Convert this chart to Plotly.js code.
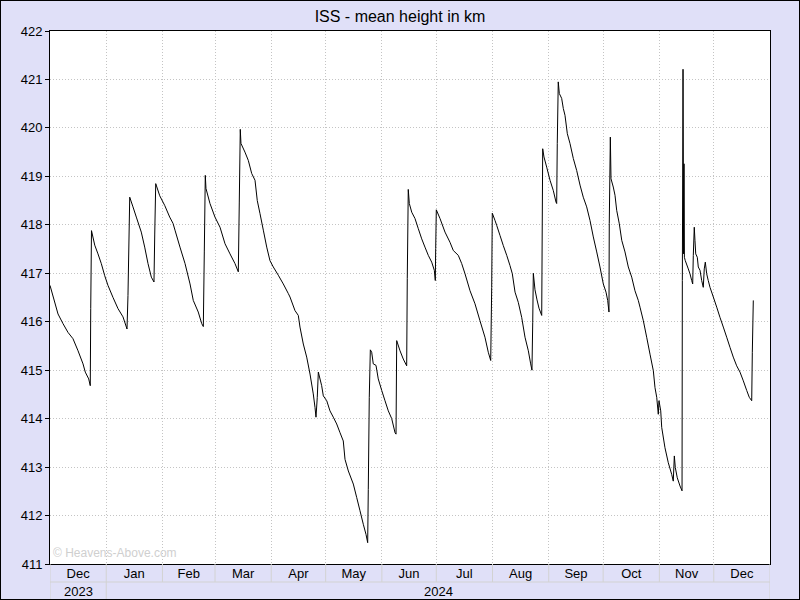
<!DOCTYPE html>
<html>
<head>
<meta charset="utf-8">
<script src="https://cdn.plot.ly/plotly-3.0.1.min.js"></script>
<style>
  html, body { margin: 0; padding: 0; background: #e0e0f8; }
  #wrap { position: relative; width: 800px; height: 600px; }
  #chart { width: 800px; height: 600px; }
  #frame { position: absolute; left: 0; top: 0; width: 800px; height: 600px; box-sizing: border-box; border: 1px solid #000; pointer-events: none; }
</style>
</head>
<body>
<div id="wrap"><div id="chart"></div><div id="frame"></div></div>
<script>
// ---- data ----
const chartTitle = "ISS - mean height in km";
const watermark = "\u00a9 Heavens-Above.com";

const dates = [
 "2023-12-01 00:00","2023-12-05 10:00","2023-12-08 04:00","2023-12-10 22:00","2023-12-13 16:00","2023-12-16 11:00","2023-12-19 05:00","2023-12-20 11:00","2023-12-22 08:00","2023-12-23 05:00","2023-12-23 11:00","2023-12-23 21:00",
 "2023-12-25 16:00","2023-12-27 11:00","2023-12-29 07:00","2023-12-31 04:00","2024-01-01 23:00","2024-01-04 18:00","2024-01-07 12:00","2024-01-10 06:00","2024-01-12 11:00","2024-01-13 00:00","2024-01-13 23:00",
 "2024-01-15 18:00","2024-01-17 14:00","2024-01-20 08:00","2024-01-22 05:00","2024-01-24 01:00","2024-01-25 21:00","2024-01-27 08:00","2024-01-27 18:00","2024-01-28 07:00",
 "2024-01-30 12:00","2024-02-02 06:00","2024-02-05 00:00","2024-02-06 20:00","2024-02-07 22:00","2024-02-10 16:00","2024-02-13 11:00","2024-02-16 05:00","2024-02-18 00:00","2024-02-20 18:00","2024-02-22 16:00","2024-02-23 13:00","2024-02-24 02:00","2024-02-24 15:00",
 "2024-02-25 00:00","2024-02-27 05:00","2024-02-29 23:00","2024-03-03 18:00","2024-03-06 12:00","2024-03-09 06:00","2024-03-12 00:00","2024-03-13 20:00","2024-03-14 09:00","2024-03-14 22:00",
 "2024-03-15 07:00","2024-03-17 12:00","2024-03-19 08:00","2024-03-21 05:00","2024-03-23 01:00","2024-03-24 07:00","2024-03-25 19:00","2024-03-27 15:00","2024-03-29 12:00","2024-03-31 07:00","2024-04-02 03:00","2024-04-04 21:00","2024-04-07 15:00","2024-04-10 10:00","2024-04-11 08:00","2024-04-14 02:00","2024-04-15 22:00","2024-04-16 20:00","2024-04-18 16:00","2024-04-20 13:00","2024-04-22 09:00","2024-04-24 04:00","2024-04-25 03:00","2024-04-25 16:00","2024-04-26 09:00","2024-04-26 23:00",
 "2024-04-28 19:00","2024-04-29 17:00","2024-05-01 14:00","2024-05-03 09:00","2024-05-05 05:00","2024-05-07 02:00","2024-05-08 22:00","2024-05-10 17:00","2024-05-11 16:00","2024-05-13 12:00","2024-05-16 06:00","2024-05-18 03:00","2024-05-19 22:00","2024-05-21 18:00","2024-05-23 06:00","2024-05-24 04:00","2024-05-24 12:00","2024-05-25 01:00","2024-05-25 15:00",
 "2024-05-26 09:00","2024-05-27 06:00","2024-05-28 18:00","2024-05-30 00:00","2024-05-31 22:00","2024-06-02 17:00","2024-06-04 13:00","2024-06-06 10:00","2024-06-08 06:00","2024-06-08 19:00","2024-06-09 04:00",
 "2024-06-11 00:00","2024-06-12 19:00","2024-06-14 16:00","2024-06-15 00:00","2024-06-15 13:00",
 "2024-06-16 03:00","2024-06-17 11:00","2024-06-19 06:00","2024-06-21 02:00","2024-06-22 23:00","2024-06-24 18:00","2024-06-26 14:00","2024-06-28 11:00","2024-06-29 22:00","2024-06-30 11:00","2024-06-30 16:00","2024-07-01 00:00",
 "2024-07-03 01:00","2024-07-05 19:00","2024-07-08 13:00","2024-07-10 09:00","2024-07-13 03:00","2024-07-15 00:00","2024-07-16 20:00","2024-07-19 14:00","2024-07-22 08:00","2024-07-25 02:00","2024-07-27 20:00","2024-07-29 16:00","2024-07-31 00:00","2024-07-31 13:00","2024-07-31 21:00",
 "2024-08-02 09:00","2024-08-03 07:00","2024-08-05 03:00","2024-08-06 23:00","2024-08-08 20:00","2024-08-10 15:00","2024-08-11 22:00","2024-08-13 10:00","2024-08-15 05:00","2024-08-17 02:00","2024-08-18 22:00","2024-08-20 18:00","2024-08-22 01:00","2024-08-22 18:00","2024-08-23 04:00","2024-08-23 12:00","2024-08-24 10:00","2024-08-25 13:00","2024-08-26 15:00","2024-08-28 03:00","2024-08-28 16:00",
 "2024-08-29 09:00","2024-08-30 21:00","2024-09-01 17:00","2024-09-03 12:00","2024-09-05 00:00","2024-09-05 09:00","2024-09-05 17:00","2024-09-06 06:00",
 "2024-09-06 20:00","2024-09-08 03:00","2024-09-09 01:00","2024-09-09 23:00","2024-09-11 06:00","2024-09-12 17:00","2024-09-14 13:00","2024-09-16 10:00","2024-09-18 06:00","2024-09-20 01:00","2024-09-21 22:00","2024-09-23 18:00","2024-09-25 14:00","2024-09-27 11:00","2024-09-29 06:00","2024-10-01 02:00","2024-10-02 14:00","2024-10-03 12:00","2024-10-04 05:00","2024-10-04 09:00","2024-10-04 23:00",
 "2024-10-05 08:00","2024-10-06 14:00","2024-10-07 13:00","2024-10-08 11:00","2024-10-09 22:00","2024-10-11 06:00","2024-10-13 01:00","2024-10-14 21:00","2024-10-16 18:00","2024-10-18 13:00","2024-10-20 09:00","2024-10-21 08:00","2024-10-23 04:00","2024-10-25 00:00","2024-10-26 20:00","2024-10-28 16:00","2024-10-29 14:00","2024-10-30 13:00","2024-10-31 10:00","2024-10-31 19:00","2024-11-01 18:00","2024-11-02 07:00","2024-11-04 02:00","2024-11-05 22:00","2024-11-07 19:00","2024-11-08 16:00","2024-11-09 06:00","2024-11-09 19:00","2024-11-10 21:00","2024-11-12 09:00","2024-11-13 12:00",
 "2024-11-13 16:00","2024-11-14 01:00","2024-11-14 09:00","2024-11-14 14:00","2024-11-14 19:00","2024-11-15 07:00","2024-11-16 23:00","2024-11-17 21:00","2024-11-18 20:00","2024-11-19 09:00","2024-11-19 17:00","2024-11-20 06:00","2024-11-20 15:00","2024-11-21 01:00","2024-11-21 22:00","2024-11-22 11:00","2024-11-23 10:00","2024-11-24 08:00","2024-11-25 05:00","2024-11-25 18:00","2024-11-26 08:00","2024-11-27 02:00","2024-11-27 23:00","2024-11-28 22:00","2024-11-30 18:00",
 "2024-12-02 15:00","2024-12-04 10:00","2024-12-06 06:00","2024-12-08 03:00","2024-12-09 23:00","2024-12-11 18:00","2024-12-13 15:00","2024-12-15 11:00","2024-12-17 07:00","2024-12-19 04:00","2024-12-20 14:00","2024-12-21 22:00","2024-12-22 06:00","2024-12-22 19:00"
];

const heightKm = [
 416.75,416.16,415.96,415.78,415.65,415.40,415.13,414.96,414.82,414.68,416.27,417.88,
 417.58,417.40,417.20,416.95,416.75,416.50,416.27,416.10,415.85,416.54,418.57,
 418.37,418.16,417.85,417.54,417.20,416.92,416.82,417.81,418.85,
 418.60,418.40,418.16,418.03,417.89,417.54,417.20,416.78,416.44,416.20,415.96,415.90,417.44,419.02,
 418.75,418.44,418.16,417.95,417.61,417.40,417.20,417.03,418.47,419.97,
 419.68,419.50,419.33,419.06,418.92,418.50,418.23,417.89,417.54,417.26,417.13,416.96,416.78,416.58,416.51,416.23,416.13,415.89,415.54,415.27,414.92,414.51,414.23,414.03,414.44,414.96,
 414.68,414.47,414.37,414.16,414.03,413.89,413.71,413.54,413.16,412.92,412.65,412.37,412.10,411.82,411.61,411.44,412.54,414.44,415.42,
 415.37,415.13,415.10,414.82,414.58,414.37,414.16,414.00,413.71,413.68,415.61,
 415.40,415.23,415.09,416.89,418.73,
 418.44,418.26,418.13,417.92,417.71,417.54,417.37,417.23,417.06,416.85,417.51,418.31,
 418.13,417.85,417.64,417.47,417.37,417.20,416.99,416.64,416.37,416.02,415.68,415.37,415.20,416.71,418.24,
 418.09,417.99,417.78,417.57,417.37,417.16,416.99,416.61,416.40,416.09,415.68,415.40,415.13,415.00,415.99,417.00,416.66,416.45,416.28,416.13,419.57,
 419.40,419.19,418.92,418.71,418.47,418.44,419.68,420.95,
 420.71,420.61,420.40,420.26,419.88,419.68,419.37,419.12,418.82,418.57,418.37,418.09,417.75,417.44,417.13,416.78,416.61,416.44,416.20,418.03,419.81,
 418.95,418.78,418.61,418.30,418.02,417.68,417.44,417.13,416.92,416.64,416.44,416.30,416.02,415.68,415.33,414.99,414.64,414.44,414.09,414.37,414.16,413.82,413.40,413.09,412.85,412.71,413.23,412.99,412.78,412.61,412.51,
 416.85,421.21,417.40,419.26,417.33,417.26,417.09,416.99,416.85,416.78,417.37,417.95,417.68,417.40,417.33,417.13,417.06,416.85,416.71,417.09,417.23,416.99,416.85,416.71,416.51,
 416.30,416.09,415.89,415.68,415.47,415.27,415.09,414.96,414.78,414.58,414.44,414.37,415.37,416.44
];

const xStart = "2023-12-01";
const xEnd = "2025-01-01";
const yearLabels = ["2023", "2024"];
const yearStarts = ["2023-12-01", "2024-01-01"];
const yearEnds = ["2024-01-01", "2025-01-01"];

// ---- layout helpers ----
const gridCol = "#c4c4c4";
const gridDash = "1px,2px";
const cellCol = "#d2d2d2";
const plotH = 533;                 // plot height in px
const rowH = 18 / plotH;           // month row height in paper units
const yBottom = -36 / plotH;       // bottom of image in paper units

// month boundaries for label-cell dividers
const monthEdges = [];
{
  let d = new Date(Date.UTC(2023, 11, 1));
  const end = new Date(Date.UTC(2025, 0, 1));
  while (d <= end) {
    monthEdges.push(d.toISOString().slice(0, 10));
    d = new Date(Date.UTC(d.getUTCFullYear(), d.getUTCMonth() + 1, 1));
  }
}

const shapes = [];
monthEdges.forEach(m => {
  const isYearEdge = yearStarts.includes(m) || m === xEnd;
  shapes.push({type: "line", xref: "x", yref: "paper", x0: m, x1: m,
    y0: 0, y1: isYearEdge ? yBottom : -rowH, line: {color: cellCol, width: 1}});
});
shapes.push({type: "line", xref: "paper", yref: "paper", x0: 0, x1: 1,
  y0: -rowH, y1: -rowH, line: {color: cellCol, width: 1}});

const annotations = yearLabels.map((t, i) => {
  const a = new Date(yearStarts[i] + "T00:00:00Z").getTime();
  const b = new Date(yearEnds[i] + "T00:00:00Z").getTime();
  const mid = new Date((a + b) / 2).toISOString().slice(0, 19).replace("T", " ");
  return {text: t, xref: "x", yref: "paper", x: mid, y: (yBottom - rowH) / 2,
    xanchor: "center", yanchor: "middle", showarrow: false,
    font: {family: "Liberation Sans, Arial, sans-serif", size: 13, color: "#000"}};
});
annotations.push({text: watermark, xref: "paper", yref: "paper", x: 0.002, y: 0.003,
  xanchor: "left", yanchor: "bottom", showarrow: false,
  font: {family: "Liberation Sans, Arial, sans-serif", size: 12, color: "#cfcfcf"}});

const trace = {
  x: dates, y: heightKm, type: "scatter", mode: "lines",
  line: {color: "#000", width: 1, simplify: false},
  hoverinfo: "skip", showlegend: false
};

const layout = {
  width: 800, height: 600,
  margin: {l: 50, r: 30, t: 31, b: 36, pad: 0},
  paper_bgcolor: "#e0e0f8", plot_bgcolor: "#ffffff",
  font: {family: "Liberation Sans, Arial, sans-serif", size: 13, color: "#000"},
  title: {text: chartTitle, x: 0.5, xref: "container", xanchor: "center",
    y: 1 - 16 / 600, yref: "container", yanchor: "middle",
    font: {family: "Liberation Sans, Arial, sans-serif", size: 16, color: "#000"}},
  xaxis: {type: "date", range: [xStart, xEnd], tick0: xStart, dtick: "M1",
    tickformat: "%b", ticklabelmode: "period", ticks: "", showgrid: true,
    gridcolor: gridCol, griddash: gridDash, gridwidth: 1,
    showline: true, mirror: true, linecolor: "#000", linewidth: 1,
    zeroline: false, fixedrange: true, ticklabelstandoff: -3,
    tickfont: {size: 13, color: "#000"}},
  yaxis: {range: [411, 422], dtick: 1, tick0: 411, ticks: "outside", ticklen: 4,
    tickcolor: "#000", tickwidth: 1, showgrid: true, gridcolor: gridCol,
    griddash: gridDash, gridwidth: 1, showline: true, mirror: true,
    linecolor: "#000", linewidth: 1, zeroline: false, fixedrange: true,
    tickfont: {size: 13, color: "#000"}},
  shapes: shapes,
  annotations: annotations,
  showlegend: false
};

Plotly.newPlot("chart", [trace], layout, {staticPlot: true, displayModeBar: false});
</script>
</body>
</html>
